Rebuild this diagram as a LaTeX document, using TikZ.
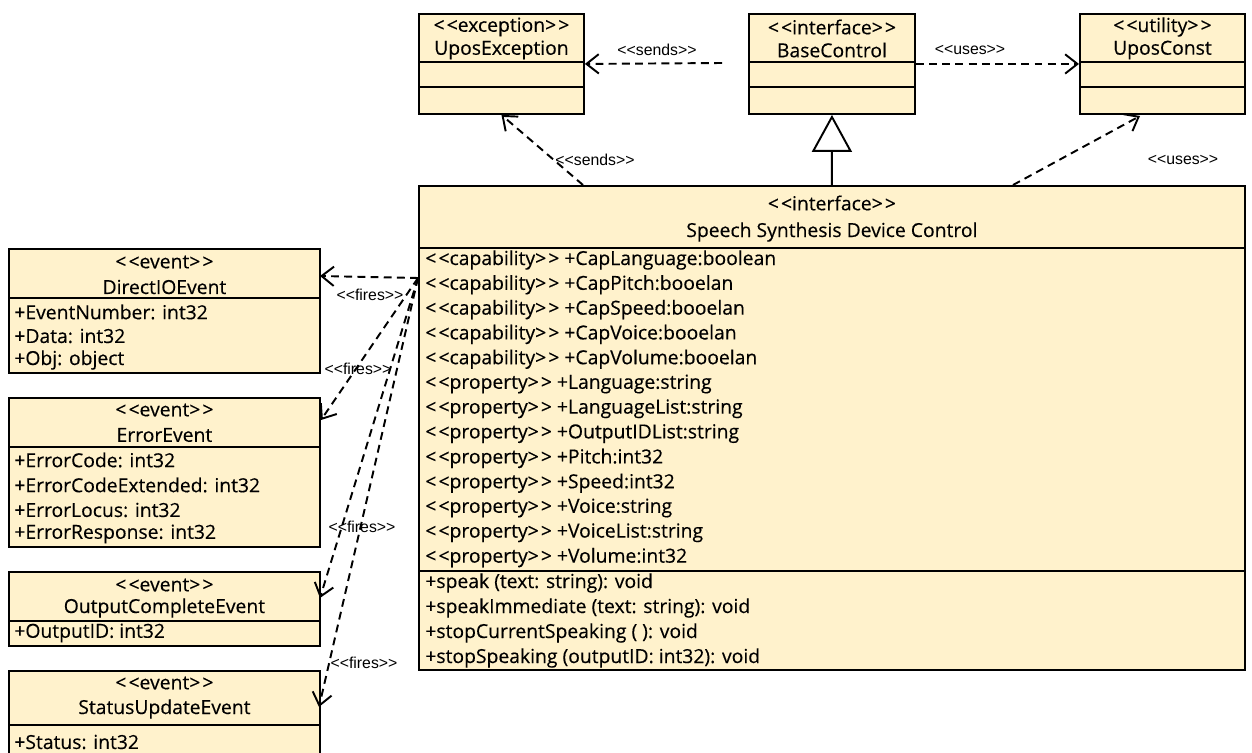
\documentclass[tikz,border=0pt]{standalone}
\usepackage{fontspec}
\newfontfamily\boxfont{Open Sans}[FakeBold=0.35]
\newfontfamily\labelfont{Liberation Sans}
\usetikzlibrary{arrows.meta}
\definecolor{umlfill}{RGB}{255,242,204}
\newcommand{\stereo}[1]{<\kern1.2pt<#1>\kern1.2pt>}

\begin{document}
\begin{tikzpicture}[x=0.02cm, y=-0.02cm,
                        classbox/.style={draw=black, line width=1.1pt, fill=umlfill, inner sep=0pt, anchor=north west},
                        divider/.style={draw=black, line width=0.8pt},
                        txt/.style={inner sep=0pt, anchor=west, font=\boxfont\fontsize{11}{12}\selectfont},
                        ctxt/.style={inner sep=0pt, font=\boxfont\fontsize{11}{12}\selectfont},
                        rel/.style={draw, line width=1.1pt, dash pattern=on 4.5pt off 3pt,
                                    -{Straight Barb[length=7pt, width=11pt, line width=1.1pt]}},
                        lbl/.style={inner sep=0pt, font=\labelfont\fontsize{9}{10}\selectfont}]

                        \useasboundingbox (0,0) rectangle (1252,753);

                        % Top row
                        \node[classbox, minimum width=3.3cm, minimum height=2cm] (UposException) at (418,13) {};
                        \node[classbox, minimum width=3.32cm, minimum height=2cm] (BaseControl) at (748,13) {};
                        \node[classbox, minimum width=3.3cm, minimum height=2cm] (UposConst) at (1079,13) {};
                        \foreach \c in {UposException, BaseControl, UposConst} {
                            \draw[divider] (\c.west |- 0,62) -- (\c.east |- 0,62);
                            \draw[divider] (\c.west |- 0,87) -- (\c.east |- 0,87);
                        }
                        \node[ctxt] (exSt) at (UposException.north |- 0,27) {\stereo{exception}};
                        \node[ctxt] (exNm) at (UposException.north |- 0,50) {UposException};
                        \node[ctxt] (bcSt) at (BaseControl.north |- 0,27) {\stereo{interface}};
                        \node[ctxt] (bcNm) at (BaseControl.north |- 0,50) {BaseControl};
                        \node[ctxt] (ucSt) at (UposConst.north |- 0,27) {\stereo{utility}};
                        \node[ctxt] (ucNm) at (UposConst.north |- 0,50) {UposConst};

                        % Main interface
                        \node[classbox, minimum width=16.52cm, minimum height=9.68cm] (Speech) at (418,185) {};
                        \draw[line width=1.1pt] (Speech.west |- 0,248) -- (Speech.east |- 0,248);
                        \draw[divider] (Speech.west |- 0,571) -- (Speech.east |- 0,571);
                        \node[ctxt] (spSt) at (Speech.north |- 0,203) {\stereo{interface}};
                        \node[ctxt] (spNm) at (Speech.north |- 0,232) {Speech Synthesis Device Control};
                        \foreach \t [count=\i from 0] in {\stereo{capability} +CapLanguage:boolean, \stereo{capability} +CapPitch:booelan,
                            \stereo{capability} +CapSpeed:booelan, \stereo{capability} +CapVoice:booelan, \stereo{capability} +CapVolume:booelan,
                            \stereo{property} +Language:string, \stereo{property} +LanguageList:string, \stereo{property} +OutputIDList:string,
                            \stereo{property} +Pitch:int32, \stereo{property} +Speed:int32, \stereo{property} +Voice:string,
                            \stereo{property} +VoiceList:string, \stereo{property} +Volume:int32}
                            \node[txt] (spA\i) at (425,260+24.8*\i) {\t};
                        \foreach \t [count=\i from 0] in {+speak (text: string): void, +speakImmediate (text: string): void,
                            +stopCurrentSpeaking ( ): void, +stopSpeaking (outputID: int32): void}
                            \node[txt] (spO\i) at (425,583+25*\i) {\t};

                        % Events
                        \node[classbox, minimum width=6.22cm, minimum height=2.48cm] (DirectIO) at (8,248) {};
                        \draw[divider] (DirectIO.west |- 0,298) -- (DirectIO.east |- 0,298);
                        \node[ctxt] (dioSt) at (DirectIO.north |- 0,262) {\stereo{event}};
                        \node[ctxt] (dioNm) at (DirectIO.north |- 0,287) {DirectIOEvent};
                        \node[txt] (dioA0) at (14,312) {+EventNumber: int32};
                        \node[txt] (dioA1) at (14,336) {+Data: int32};
                        \node[txt] (dioA2) at (14,360) {+Obj: object};

                        \node[classbox, minimum width=6.22cm, minimum height=2.98cm] (ErrorEv) at (8,397) {};
                        \draw[divider] (ErrorEv.west |- 0,447) -- (ErrorEv.east |- 0,447);
                        \node[ctxt] (errSt) at (ErrorEv.north |- 0,410) {\stereo{event}};
                        \node[ctxt] (errNm) at (ErrorEv.north |- 0,435) {ErrorEvent};
                        \node[txt] (errA0) at (14,460) {+ErrorCode: int32};
                        \node[txt] (errA1) at (14,485) {+ErrorCodeExtended: int32};
                        \node[txt] (errA2) at (14,510) {+ErrorLocus: int32};
                        \node[txt] (errA3) at (14,534) {+ErrorResponse: int32};

                        \node[classbox, minimum width=6.22cm, minimum height=1.48cm] (OutputEv) at (8,571) {};
                        \draw[divider] (OutputEv.west |- 0,621) -- (OutputEv.east |- 0,621);
                        \node[ctxt] (outSt) at (OutputEv.north |- 0,585) {\stereo{event}};
                        \node[ctxt] (outNm) at (OutputEv.north |- 0,608) {OutputCompleteEvent};
                        \node[txt] (outA0) at (14,633) {+OutputID: int32};

                        \node[classbox, minimum width=6.22cm, minimum height=2.2cm] (StatusEv) at (8,670) {};
                        \draw[divider] (StatusEv.west |- 0,725) -- (StatusEv.east |- 0,725);
                        \node[ctxt] (stSt) at (StatusEv.north |- 0,683) {\stereo{event}};
                        \node[ctxt] (stNm) at (StatusEv.north |- 0,709) {StatusUpdateEvent};
                        \node[txt] (stA0) at (14,742) {+Status: int32};

                        % Connector ends
                        \coordinate (bcOut) at (722,63);
                        \coordinate (spSends) at (583,185);
                        \coordinate (spUses) at (1013,185);
                        \coordinate (ucIn) at (1140,116);
                        \coordinate (fireSrc) at (418,278);
                        \coordinate (dioIn) at (320,276);
                        \coordinate (errIn) at (321,420);
                        \coordinate (outIn) at (320,598);
                        \coordinate (stIn) at (319,707);

                        % Relations
                        \draw[rel] (bcOut) -- (UposException.east);
                        \draw[rel] (BaseControl.east) -- (UposConst.west);
                        \draw[line width=1.1pt, -{Triangle[open, length=21pt, width=22.7pt, fill=white]}]
                            (Speech.north) -- (BaseControl.south);
                        \draw[rel] (spSends) -- (UposException.south);
                        \draw[rel] (spUses) -- (ucIn);
                        \draw[rel] (fireSrc) -- (dioIn);
                        \draw[rel] (fireSrc) -- (errIn);
                        \draw[rel] (fireSrc) -- (outIn);
                        \draw[rel] (fireSrc) -- (stIn);

                        % Labels
                        \node[lbl] (l1) at (657,50) {<<sends>>};
                        \node[lbl] (l2) at (970,50) {<<uses>>};
                        \node[lbl] (l3) at (595,160) {<<sends>>};
                        \node[lbl] (l4) at (1183,160) {<<uses>>};
                        \node[lbl] (l5) at (370,295) {<<fires>>};
                        \node[lbl] (l6) at (358,369) {<<fires>>};
                        \node[lbl] (l7) at (362,527) {<<fires>>};
                        \node[lbl] (l8) at (364,663) {<<fires>>};
                    \end{tikzpicture}
\end{document}
